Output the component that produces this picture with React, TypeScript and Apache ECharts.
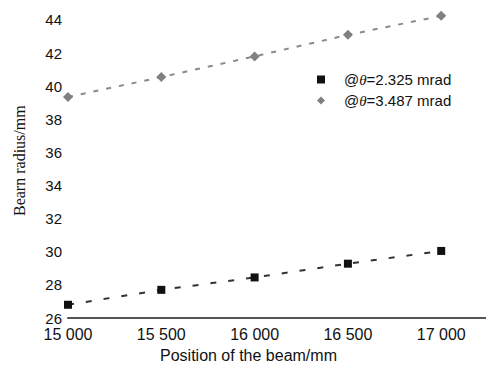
import React, { useEffect, useRef } from "react";
import * as echarts from "echarts";

const positions = [15000, 15500, 16000, 16500, 17000];
const radius2325 = [26.8, 27.7, 28.45, 29.28, 30.05];
const radius3487 = [39.35, 40.55, 41.8, 43.1, 44.25];
const seriesNames = ["@θ=2.325 mrad", "@θ=3.487 mrad"];
const xTitle = "Position of the beam/mm";
const yTitle = "Bearn radius/mm";

const fmtX = (v: number) => {
  if (v % 500 !== 0) return "";
  const s = String(v);
  return s.slice(0, s.length - 3) + " " + s.slice(-3);
};

export default function App() {
  const ref = useRef<HTMLDivElement>(null);
  useEffect(() => {
    if (!ref.current) return;
    const chart = echarts.init(ref.current, null, { renderer: "svg" });
    const font = "'Liberation Sans Narrow', 'Liberation Sans', Arial, sans-serif";
    chart.setOption({
      animation: false,
      backgroundColor: "#ffffff",
      grid: { left: 68, right: 0, top: 3.4, bottom: 47 },
      xAxis: {
        type: "value",
        min: 15000,
        max: 17240,
        interval: 500,
        axisLine: { show: true, lineStyle: { color: "#555", width: 2 } },
        axisTick: { show: false },
        splitLine: { show: false },
        axisLabel: {
          formatter: fmtX,
          color: "#111",
          fontSize: 16,
          lineHeight: 16,
          fontFamily: font,
          margin: 8,
          showMaxLabel: false,
        },
      },
      yAxis: {
        type: "value",
        min: 26,
        max: 45,
        interval: 2,
        axisLine: { show: false },
        axisTick: { show: false },
        splitLine: { show: false },
        axisLabel: {
          formatter: (v: number) => (v % 2 === 0 ? String(v) : ""),
          color: "#111",
          fontSize: 15,
          lineHeight: 13,
          fontFamily: font,
          margin: 6,
          showMaxLabel: false,
        },
      },
      legend: {
        orient: "vertical",
        left: 312,
        top: 67,
        itemGap: 6,
        itemWidth: 8,
        itemHeight: 8,
        data: [
          { name: seriesNames[0], icon: "rect" },
          { name: seriesNames[1], icon: "diamond" },
        ],
        formatter: (name: string) => {
          const rest = name.slice(2);
          return "{a|@}{i|θ}{a|" + rest + "}";
        },
        textStyle: {
          color: "#111",
          fontSize: 15,
          fontFamily: font,
          padding: [0, 0, 0, 14],
          rich: {
            a: { fontSize: 15, fontFamily: font, color: "#111" },
            i: { fontSize: 15, fontFamily: "'Liberation Serif', serif", fontStyle: "italic", color: "#111" },
          },
        },
      },
      series: [
        {
          name: seriesNames[0],
          type: "line",
          data: positions.map((p, i) => [p, radius2325[i]]),
          symbol: "rect",
          symbolSize: 8,
          itemStyle: { color: "#111" },
          lineStyle: { color: "#333", width: 2, type: [6, 12] },
        },
        {
          name: seriesNames[1],
          type: "line",
          data: positions.map((p, i) => [p, radius3487[i]]),
          symbol: "diamond",
          symbolSize: 10,
          itemStyle: { color: "#808080" },
          lineStyle: { color: "#8a8a8a", width: 2, type: [5, 8] },
        },
      ],
      graphic: [
        {
          type: "text",
          left: 160,
          top: 347,
          style: { text: xTitle, fontSize: 16, fontFamily: font, fill: "#111" },
        },
        {
          type: "text",
          x: 11,
          y: 216,
          rotation: Math.PI / 2,
          style: {
            text: yTitle,
            fontSize: 16,
            fontFamily: "'Liberation Serif', 'DejaVu Serif', serif",
            fill: "#111",
          },
        },
      ],
    });
    return () => chart.dispose();
  }, []);
  return <div ref={ref} style={{ width: 486, height: 365, position: "absolute", left: 0, top: 0 }} />;
}
